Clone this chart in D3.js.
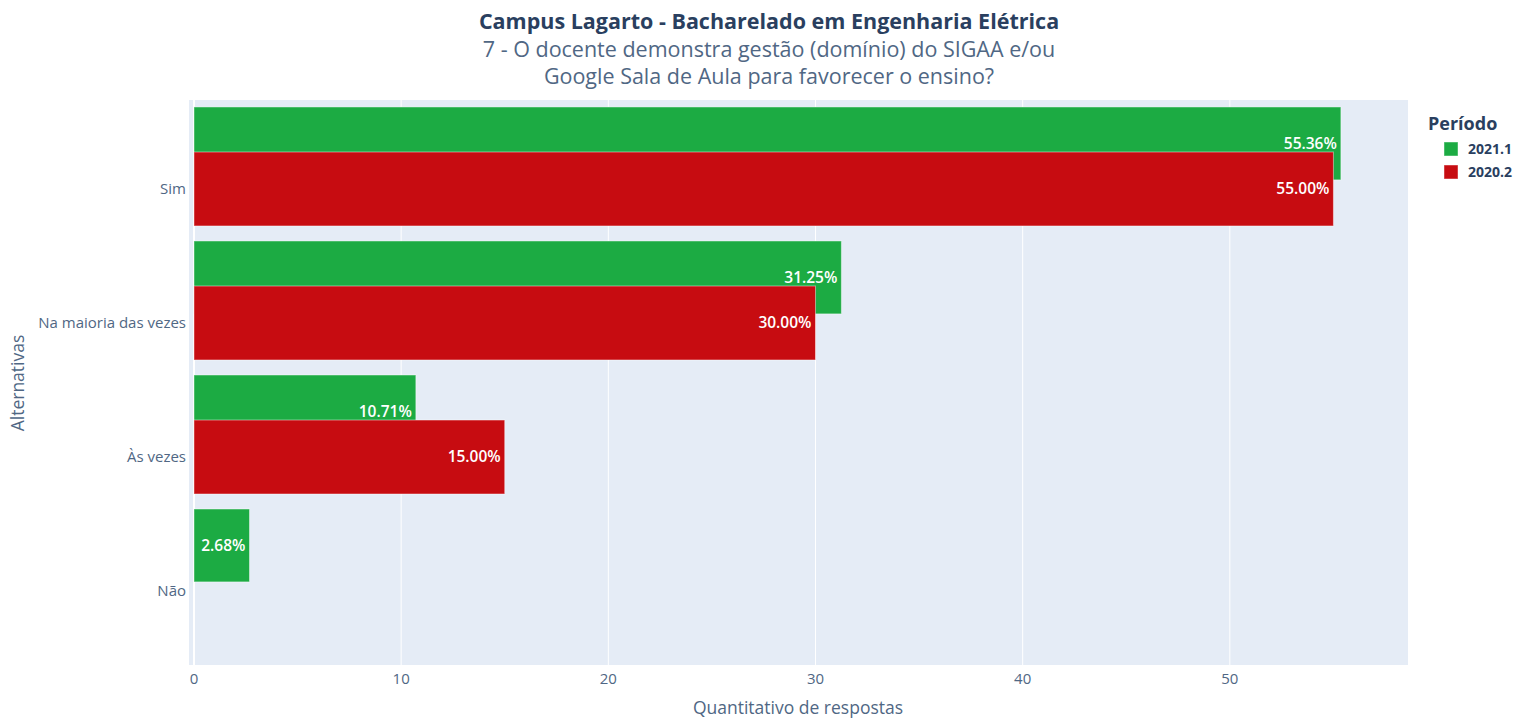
<!DOCTYPE html>
<html><head><meta charset="utf-8">
<script src="https://cdn.jsdelivr.net/npm/d3@7"></script>
<style>body{margin:0;background:#fff}text{font-family:"Open Sans",sans-serif}</style>
</head><body><svg id="c" width="1526" height="719"></svg>
<script>
const categories = ["Sim", "Na maioria das vezes", "Às vezes", "Não"];
const series2021 = [55.36, 31.25, 10.71, 2.68];
const series2020 = [55.00, 30.00, 15.00, 0];
const seriesNames = ["2021.1", "2020.2"];
const xTicks = [0, 10, 20, 30, 40, 50];

const svg = d3.select("#c");
const L = 189, R = 1408, T = 100, B = 665;
const x = d3.scaleLinear().domain([-0.24, 58.6]).range([L, R]);
const y = d3.scaleLinear().domain([-0.664, 3.552]).range([T, B]);
const colors = {"2021.1": "#1cab43", "2020.2": "#c70c11"};
const fc = "#2a3f5f", fc2 = "#506784";

svg.append("rect").attr("x", L).attr("y", T).attr("width", R - L).attr("height", B - T).attr("fill", "#e5ecf6");
svg.append("g").selectAll("line").data(xTicks).join("line")
  .attr("x1", d => x(d)).attr("x2", d => x(d)).attr("y1", T).attr("y2", B)
  .attr("stroke", "#fff").attr("stroke-width", d => d === 0 ? 2 : 1);

const geom = {"2021.1": [-0.34, 0.272], "2020.2": [0.0, 0.276]};
const data = [
  {name: "2021.1", vals: series2021},
  {name: "2020.2", vals: series2020}
];
data.forEach(s => {
  const g = svg.append("g");
  const [off, hw] = geom[s.name];
  const rows = s.vals.map((v, i) => ({v, i})).filter(d => d.v > 0);
  g.selectAll("rect").data(rows).join("rect")
    .attr("x", x(0)).attr("width", d => x(d.v) - x(0))
    .attr("y", d => y(d.i + off - hw)).attr("height", d => y(d.i + off + hw) - y(d.i + off - hw))
    .attr("fill", colors[s.name]).attr("stroke", "rgba(255,255,255,0.45)").attr("stroke-width", 1);
  s.rows = rows; s.off = off;
});
data.forEach(s => {
  svg.append("g").selectAll("text").data(s.rows).join("text")
    .attr("x", d => x(d.v) - 4).attr("y", d => y(d.i + s.off)).attr("dy", "0.35em")
    .attr("text-anchor", "end").attr("fill", "#fff").attr("font-size", 15.5).attr("font-weight", 600)
    .text(d => d.v.toFixed(2) + "%");
});

svg.append("g").selectAll("text").data(xTicks).join("text")
  .attr("x", d => x(d)).attr("y", 684).attr("text-anchor", "middle")
  .attr("fill", fc2).attr("font-size", 15).text(d => d);
svg.append("g").selectAll("text").data(categories).join("text")
  .attr("x", 186).attr("y", (d, i) => y(i)).attr("dy", "0.35em").attr("text-anchor", "end")
  .attr("fill", fc2).attr("font-size", 15).text(d => d);

svg.append("text").attr("x", 798).attr("y", 714).attr("text-anchor", "middle")
  .attr("fill", fc2).attr("font-size", 17.5).text("Quantitativo de respostas");
svg.append("text").attr("transform", "translate(24,383) rotate(-90)").attr("text-anchor", "middle")
  .attr("fill", fc2).attr("font-size", 17.5).text("Alternativas");

svg.append("text").attr("x", 769).attr("y", 29).attr("text-anchor", "middle")
  .attr("fill", fc).attr("font-size", 21.5).attr("font-weight", 700).text("Campus Lagarto - Bacharelado em Engenharia Elétrica");
svg.append("text").attr("x", 769).attr("y", 57).attr("text-anchor", "middle")
  .attr("fill", fc2).attr("font-size", 21.5).text("7 - O docente demonstra gestão (domínio) do SIGAA e/ou");
svg.append("text").attr("x", 769).attr("y", 84).attr("text-anchor", "middle")
  .attr("fill", fc2).attr("font-size", 21.5).text("Google Sala de Aula para favorecer o ensino?");

const lg = svg.append("g");
lg.append("text").attr("x", 1428).attr("y", 130).attr("fill", fc).attr("font-size", 18).attr("font-weight", 700).text("Período");
seriesNames.forEach((n, k) => {
  const yy = 149 + k * 23;
  lg.append("rect").attr("x", 1444).attr("y", yy - 7).attr("width", 14).attr("height", 14)
    .attr("fill", colors[n]).attr("stroke", "rgba(255,255,255,0.45)");
  lg.append("text").attr("x", 1468).attr("y", yy).attr("dy", "0.35em").attr("fill", fc)
    .attr("font-size", 14).attr("font-weight", 700).text(n);
});
</script></body></html>
